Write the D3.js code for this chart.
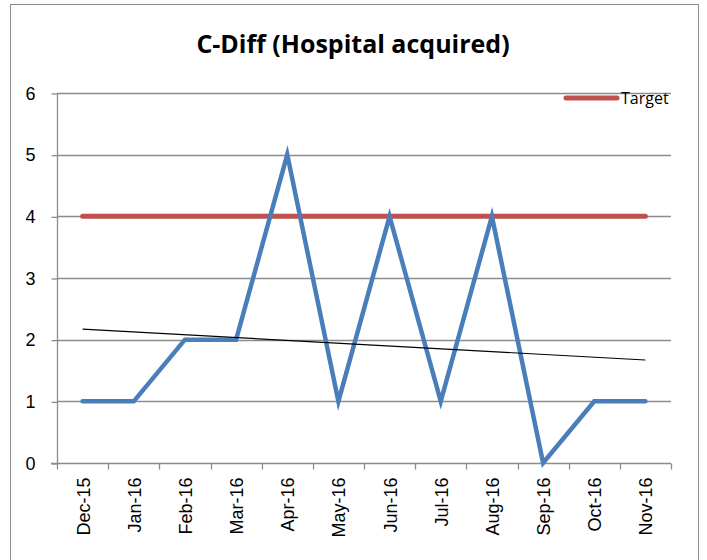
<!DOCTYPE html>
<html>
<head>
<meta charset="utf-8">
<script src="https://cdn.jsdelivr.net/npm/d3@7"></script>
<style>
  body { margin: 0; background: #fff; }
  text { font-family: 'Liberation Sans', Arial, sans-serif; }
</style>
</head>
<body>
<div class="container"></div>
<script>
// data
var months = ['Dec-15','Jan-16','Feb-16','Mar-16','Apr-16','May-16','Jun-16','Jul-16','Aug-16','Sep-16','Oct-16','Nov-16']
var cases = [1, 1, 2, 2, 5, 1, 4, 1, 4, 0, 1, 1]
var target = [4, 4, 4, 4, 4, 4, 4, 4, 4, 4, 4, 4]
var trend = [2.17, 1.67]   // linear trend, first and last month
var yTicks = [0, 1, 2, 3, 4, 5, 6]

var w = 707, h = 560
var pL = 57, pR = 671, pT = 93, pB = 463

var svg = d3.select('.container')
    .append('svg')
    .attr('width', w)
    .attr('height', h)

// chart frame
svg.append('rect')
    .attr('x', 10.5)
    .attr('y', 4.5)
    .attr('width', 688)
    .attr('height', 560)
    .style('fill', 'white')
    .style('stroke', '#8c8c8c')
    .style('stroke-width', 1)

svg.append('text')
    .attr('x', 353)
    .attr('y', 53)
    .attr('text-anchor', 'middle')
    .style('font-family', "'Open Sans', sans-serif")
    .style('font-size', '25px')
    .style('font-weight', 'bold')
    .text('C-Diff (Hospital acquired)')

var x = d3.scaleBand()
    .domain(months)
    .range([pL, pR])

var y = d3.scaleLinear()
    .domain([0, 6])
    .range([pB, pT])

// gridlines
svg.append('g')
    .selectAll('line')
    .data(yTicks.slice(1))
    .enter()
    .append('line')
    .attr('x1', pL)
    .attr('x2', pR)
    .attr('y1', d => Math.round(y(d)) + 0.5)
    .attr('y2', d => Math.round(y(d)) + 0.5)
    .style('stroke', '#8c8c8c')
    .style('stroke-width', 1.3)

// y axis
var yAxis = svg.append('g')
    .attr('transform', 'translate(' + (pL + 0.5) + ',0.5)')
    .call(d3.axisLeft(y).tickValues(yTicks).tickSize(6).tickPadding(16).tickFormat(d3.format('d')))
yAxis.selectAll('line, path').style('stroke', '#8c8c8c').style('stroke-width', 1.3)
yAxis.select('.domain').attr('d', 'M0,' + Math.round(pT) + 'V' + Math.round(pB))
yAxis.selectAll('text')
    .style('font-size', '18px')
    .style('font-family', "'Liberation Sans', Arial, sans-serif")
    .style('fill', 'black')

// x axis, ticks between categories
var xAxis = svg.append('g')
    .attr('transform', 'translate(0,' + (pB + 0.5) + ')')
xAxis.append('line')
    .attr('x1', pL - 6)
    .attr('x2', pR)
    .style('stroke', '#8c8c8c')
    .style('stroke-width', 1.3)
xAxis.selectAll('.tk')
    .data(months.concat(['end']))
    .enter()
    .append('line')
    .attr('class', 'tk')
    .attr('x1', (d, i) => Math.round(pL + i * x.bandwidth()) + 0.5)
    .attr('x2', (d, i) => Math.round(pL + i * x.bandwidth()) + 0.5)
    .attr('y1', 0)
    .attr('y2', 6)
    .style('stroke', '#8c8c8c')
    .style('stroke-width', 1.3)
xAxis.selectAll('.lbl')
    .data(months)
    .enter()
    .append('text')
    .attr('class', 'lbl')
    .attr('transform', d => 'translate(' + (x(d) + x.bandwidth() / 2 + 7) + ',14) rotate(-90)')
    .attr('text-anchor', 'end')
    .style('font-size', '18px')
    .text(d => d)

var cx = d => x(d) + x.bandwidth() / 2

var line = d3.line()
    .x((d, i) => cx(months[i]))
    .y(d => y(d))

// target
svg.append('path')
    .datum(target)
    .attr('d', line)
    .style('fill', 'none')
    .style('stroke', '#c0504d')
    .style('stroke-width', 5)
    .style('stroke-linecap', 'round')

// cases
svg.append('path')
    .datum(cases)
    .attr('d', line)
    .style('fill', 'none')
    .style('stroke', '#4a7ebb')
    .style('stroke-width', 4.5)
    .style('stroke-linecap', 'round')
    .style('stroke-linejoin', 'miter')
    .style('stroke-miterlimit', 10)

// trend
svg.append('line')
    .attr('x1', cx(months[0]))
    .attr('x2', cx(months[months.length - 1]))
    .attr('y1', y(trend[0]))
    .attr('y2', y(trend[1]))
    .style('stroke', 'black')
    .style('stroke-width', 1.2)

// legend
var lg = svg.append('g')
lg.append('line')
    .attr('x1', 566)
    .attr('x2', 617)
    .attr('y1', 98)
    .attr('y2', 98)
    .style('stroke', '#c0504d')
    .style('stroke-width', 5)
    .style('stroke-linecap', 'round')
lg.append('text')
    .attr('x', 621)
    .attr('y', 104)
    .style('font-family', "'Open Sans', sans-serif")
    .style('font-size', '16px')
    .text('Target')
</script>
</body>
</html>
